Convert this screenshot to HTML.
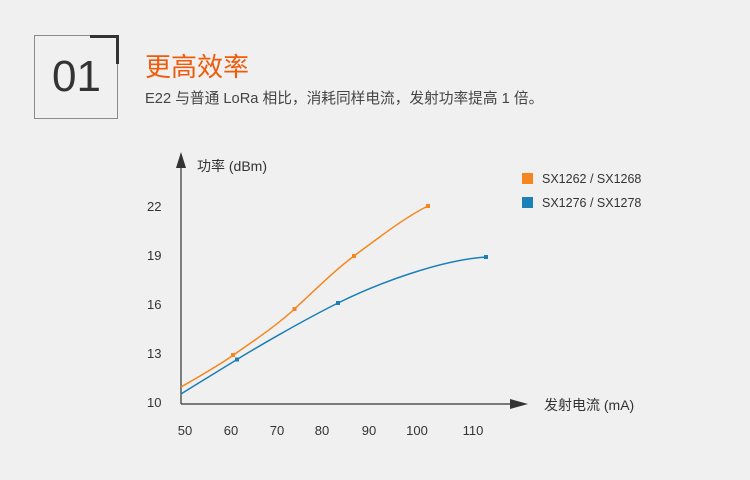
<!DOCTYPE html>
<html><head><meta charset="utf-8"><style>
body{margin:0;width:750px;height:480px;background:#f0f0f0;overflow:hidden;position:relative;font-family:"Liberation Sans","Noto Sans CJK SC",sans-serif;}
.box{position:absolute;left:34px;top:35px;width:82px;height:82px;border:1px solid #8a8a8a;}
.br{position:absolute;left:90px;top:35px;width:26px;height:26px;border-top:3px solid #333;border-right:3px solid #333;}
.num{position:absolute;left:52px;top:52px;font-size:44px;color:#333;line-height:50px;}
.t{position:absolute;left:145px;top:50px;font-size:26px;color:#f05a0a;line-height:34px;}
.s{position:absolute;left:145px;top:89px;font-size:14.7px;color:#444;line-height:20px;}
</style></head><body>
<div class="box"></div><div class="br"></div><div class="num">01</div>
<div class="t">更高效率</div>
<div class="s">E22 与普通 LoRa 相比，消耗同样电流，发射功率提高 1 倍。</div>
<svg width="750" height="480" style="position:absolute;left:0;top:0" font-family="Liberation Sans,Noto Sans CJK SC,sans-serif" font-size="13" fill="#333">
<line x1="181" y1="160" x2="181" y2="404" stroke="#333" stroke-width="1.2"/>
<polygon points="181,152 176,168 186,168" fill="#333"/>
<line x1="181" y1="404" x2="515" y2="404" stroke="#333" stroke-width="1.2"/>
<polygon points="528,404 510,399 510,409" fill="#333"/>
<text x="197" y="171" font-size="14">功率 (dBm)</text>
<text x="544" y="410" font-size="14">发射电流 (mA)</text>
<g text-anchor="start"><text x="147" y="211">22</text><text x="147" y="260">19</text><text x="147" y="309">16</text><text x="147" y="358">13</text><text x="147" y="407">10</text></g>
<g text-anchor="middle"><text x="185" y="435">50</text><text x="231" y="435">60</text><text x="277" y="435">70</text><text x="322" y="435">80</text><text x="369" y="435">90</text><text x="417" y="435">100</text><text x="473" y="435">110</text></g>
<path d="M181,387 C200,376 218,366 233.5,355 S275,327 294.5,309 S335,270 354,256 S405,217 428,206" stroke="#f5861f" stroke-width="1.5" fill="none"/>
<path d="M181,394 C200,382 220,370 237,359.5 S300,322 338,303 S440,260 486,257" stroke="#1a80b6" stroke-width="1.5" fill="none"/>
<g fill="#f5861f"><rect x="231" y="353" width="4" height="4"/><rect x="292.5" y="307" width="4" height="4"/><rect x="352" y="254" width="4" height="4"/><rect x="426" y="204" width="4" height="4"/></g>
<g fill="#1a80b6"><rect x="235" y="357.5" width="4" height="4"/><rect x="336" y="301" width="4" height="4"/><rect x="484" y="255" width="4" height="4"/></g>
<rect x="522" y="173" width="11" height="11" fill="#f5861f"/>
<rect x="522" y="197" width="11" height="11" fill="#1a80b6"/>
<text x="542" y="183" font-size="12.5">SX1262 / SX1268</text>
<text x="542" y="207" font-size="12.5">SX1276 / SX1278</text>
</svg>
</body></html>
